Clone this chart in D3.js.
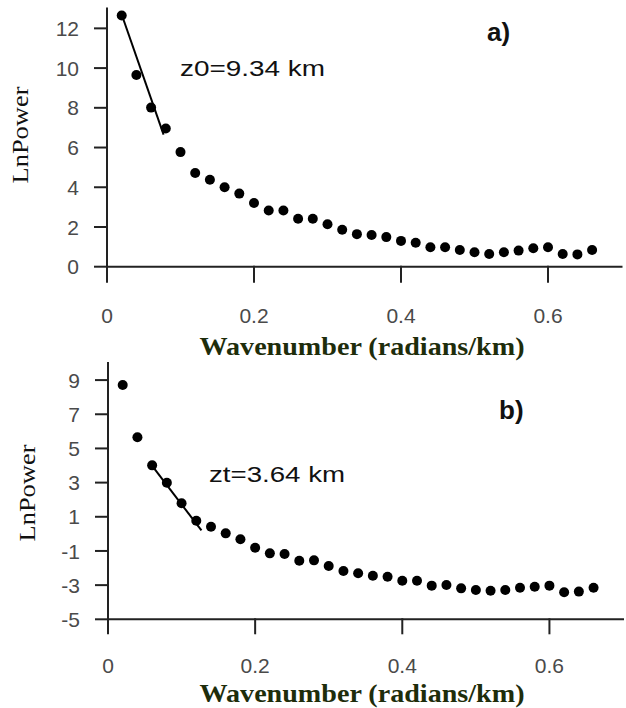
<!DOCTYPE html>
<html>
<head>
<meta charset="utf-8">
<script src="https://cdn.jsdelivr.net/npm/d3@7"></script>
<style>
  body { margin: 0; background: #fff; }
</style>
</head>
<body>
<svg id="chart"></svg>
<script>
// Two spectra: ln(power) vs wavenumber, with a slope fit on each

const wavenumber = [0.02, 0.04, 0.06, 0.08, 0.10, 0.12, 0.14, 0.16, 0.18, 0.20, 0.22,
  0.24, 0.26, 0.28, 0.30, 0.32, 0.34, 0.36, 0.38, 0.40, 0.42, 0.44, 0.46, 0.48, 0.50,
  0.52, 0.54, 0.56, 0.58, 0.60, 0.62, 0.64, 0.66];

const lnPowerA = [12.65, 9.65, 8.01, 6.96, 5.77, 4.72, 4.38, 4.0, 3.68, 3.21, 2.83,
  2.83, 2.41, 2.41, 2.14, 1.86, 1.64, 1.60, 1.49, 1.30, 1.21, 0.98, 0.98, 0.84, 0.73,
  0.64, 0.73, 0.81, 0.93, 0.98, 0.64, 0.62, 0.84];

const lnPowerB = [8.71, 5.65, 4.01, 2.99, 1.79, 0.77, 0.42, 0.03, -0.32, -0.81, -1.14,
  -1.18, -1.57, -1.55, -1.88, -2.17, -2.31, -2.45, -2.51, -2.74, -2.74, -3.03, -2.99, -3.19, -3.29,
  -3.33, -3.29, -3.15, -3.09, -3.03, -3.42, -3.38, -3.15];

// fitted straight segments (end points)
const fitA = [{ k: 0.02, p: 12.7 }, { k: 0.077, p: 6.65 }];
const fitB = [{ k: 0.058, p: 4.1 }, { k: 0.127, p: 0.2 }];

const xTicks = [0, 0.2, 0.4, 0.6];
const yTicksA = [0, 2, 4, 6, 8, 10, 12];
const yTicksB = [-5, -3, -1, 1, 3, 5, 7, 9];

const W = 626, H = 708;
const AXIS = "#222";
const TICK_TXT = "#4a4a4a";
const TITLE = "#1e2d0b";
const SANS = "Liberation Sans, Arial, sans-serif";
const SERIF = "Liberation Serif, Times New Roman, serif";

const svg = d3.select("#chart").attr("width", W).attr("height", H);

function panel(opt) {
  const g = svg.append("g");
  const x = d3.scaleLinear().domain([0, 0.7]).range(opt.xr);
  const y = d3.scaleLinear().domain(opt.yd).range(opt.yr);
  const x0 = x.range()[0], y0 = y.range()[0];

  // ---- axes, drawn by d3.line through scale-derived end points ----
  const seg = d3.line();
  const segs = [
    [[x0, y.range()[1]], [x0, y0]],
    [[x0, y0], [x.range()[1], y0]],
    ...xTicks.map(t => [[x(t), y0], [x(t), y0 + opt.xTick]]),
    ...opt.yTicks.map(t => [[x0 - 12, y(t)], [x0, y(t)]])
  ];
  g.selectAll("path.ax").data(segs).join("path").attr("class", "ax")
    .attr("d", seg)
    .attr("fill", "none").attr("stroke", AXIS).attr("stroke-width", 2)
    .attr("stroke-linecap", "square");

  // ---- tick labels ----
  g.selectAll("text.xl").data(xTicks).join("text").attr("class", "xl")
    .attr("x", d => x(d)).attr("y", y0 + opt.xLab)
    .attr("text-anchor", "middle")
    .attr("font-family", SANS).attr("font-size", 21).attr("fill", TICK_TXT)
    .text(d => String(d));
  g.selectAll("text.yl").data(opt.yTicks).join("text").attr("class", "yl")
    .attr("x", x0 - 28).attr("y", d => y(d)).attr("dy", "0.36em")
    .attr("text-anchor", "end")
    .attr("font-family", SANS).attr("font-size", 21).attr("fill", TICK_TXT)
    .text(d => String(d));

  // fit line
  g.append("path").datum(opt.fit)
    .attr("fill", "none").attr("stroke", "#000").attr("stroke-width", 2)
    .attr("d", d3.line().x(d => x(d.k)).y(d => y(d.p)));

  // points
  g.selectAll("circle.pt").data(wavenumber.map((k, i) => ({ k, p: opt.values[i] })))
    .join("circle").attr("class", "pt")
    .attr("cx", d => x(d.k)).attr("cy", d => y(d.p))
    .attr("r", 5).attr("fill", "#000");

  // depth annotation
  g.append("text")
    .attr("x", opt.note.x).attr("y", opt.note.y)
    .attr("font-family", SANS)
    .attr("font-size", 22).attr("fill", "#111")
    .attr("textLength", opt.note.w).attr("lengthAdjust", "spacingAndGlyphs")
    .text(opt.note.text);

  // panel letter
  g.append("text")
    .attr("x", opt.tag.x).attr("y", opt.tag.y)
    .attr("font-family", SANS)
    .attr("font-size", 26).attr("font-weight", 700).attr("fill", "#111")
    .text(opt.tag.text);

  // axis titles
  g.append("text")
    .attr("x", 362).attr("y", opt.titleY)
    .attr("text-anchor", "middle")
    .attr("font-family", SERIF)
    .attr("font-size", 25).attr("font-weight", 700).attr("fill", TITLE)
    .attr("textLength", 325).attr("lengthAdjust", "spacingAndGlyphs")
    .text("Wavenumber (radians/km)");

  g.append("text")
    .attr("transform", `translate(${opt.yLab.x},${opt.yLab.y}) rotate(-90)`)
    .attr("text-anchor", "middle")
    .attr("font-family", SERIF)
    .attr("font-size", 24).attr("fill", "#111")
    .attr("textLength", 97).attr("lengthAdjust", "spacingAndGlyphs")
    .text("LnPower");
}

panel({
  values: lnPowerA, fit: fitA, yTicks: yTicksA,
  xr: [107, 621.5], yd: [0, 13], yr: [266.7, 8.5],
  xTick: 15, xLab: 56.5,
  note: { text: "z0=9.34 km", x: 180, y: 76, w: 145 },
  tag: { text: "a)", x: 487, y: 41 },
  titleY: 355,
  yLab: { x: 28, y: 135 }
});

panel({
  values: lnPowerB, fit: fitB, yTicks: yTicksB,
  xr: [108, 623], yd: [-5, 10], yr: [619.3, 363],
  xTick: 14, xLab: 54,
  note: { text: "zt=3.64 km", x: 209, y: 482, w: 136 },
  tag: { text: "b)", x: 499, y: 419 },
  titleY: 702,
  yLab: { x: 35, y: 493 }
});
</script>
</body>
</html>
